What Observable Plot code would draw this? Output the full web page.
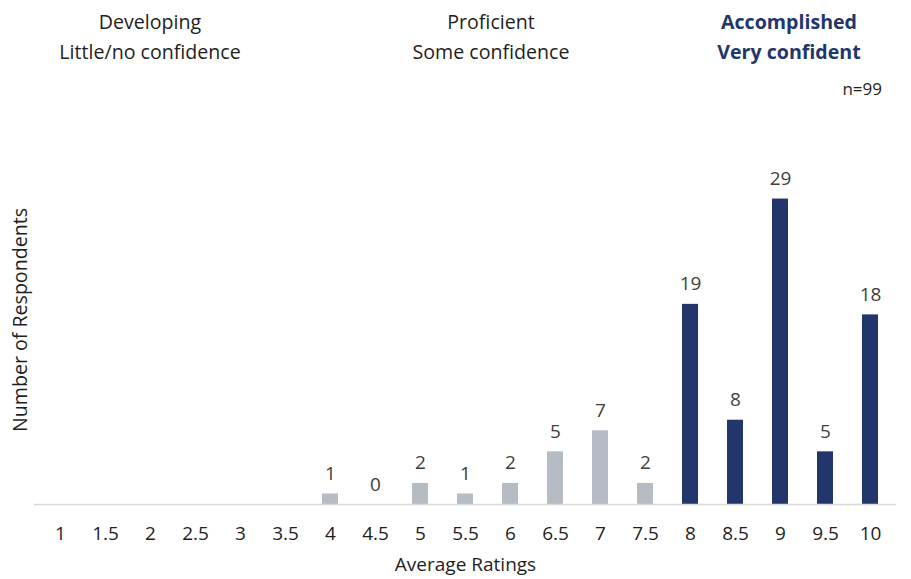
<!DOCTYPE html>
<html>
<head>
<meta charset="utf-8">
<script src="https://cdn.jsdelivr.net/npm/d3@7"></script>
<script src="https://cdn.jsdelivr.net/npm/@observablehq/plot@0.6"></script>
<style>
  body { margin: 0; background: #fff; font-family: "Open Sans", sans-serif; }
  #wrap { position: relative; width: 911px; height: 579px; }
  .hd { position: absolute; transform: translateX(-50%); text-align: center; font-size: 19.6px; line-height: 30px; color: #1e1e1e; white-space: nowrap; }
  .hd.strong { font-weight: 700; color: #22366b; }
  .note { position: absolute; right: 29px; top: 77px; font-size: 17px; color: #1e1e1e; }
  .ylab { position: absolute; left: 19px; top: 320px; transform: translate(-50%, -50%) rotate(-90deg); font-size: 19.6px; color: #1e1e1e; white-space: nowrap; }
</style>
</head>
<body>
<div id="wrap"></div>
<script>
// Rating buckets (x axis) and number of respondents in each
const ratings = ["1", "1.5", "2", "2.5", "3", "3.5", "4", "4.5", "5", "5.5", "6", "6.5", "7", "7.5", "8", "8.5", "9", "9.5", "10"];
const respondents = [null, null, null, null, null, null, 1, 0, 2, 1, 2, 5, 7, 2, 19, 8, 29, 5, 18];

// Confidence bands shown across the top
const bandTitles = ["Developing", "Proficient", "Accomplished"];
const bandSubtitles = ["Little/no confidence", "Some confidence", "Very confident"];
const bandCenters = [150, 491, 789];
const bandStrong = [false, false, true];
const sampleNote = "n=99";

const gray = "#b6bcc4";
const navy = "#22366b";
const accomplishedFrom = 8;

const data = ratings.map((r, i) => ({ rating: r, value: respondents[i] }));
const shown = data.filter(d => d.value != null);

const wrap = document.getElementById("wrap");

const chart = Plot.plot({
  width: 911,
  height: 579,
  marginLeft: 34,
  marginRight: 15,
  marginTop: 188,
  marginBottom: 75,
  style: { fontFamily: "'Open Sans', sans-serif", fontSize: "19px", color: "#1e1e1e", background: "transparent" },
  x: {
    domain: ratings,
    paddingInner: 0.646,
    paddingOuter: 0.354,
    tickSize: 0,
    tickPadding: 22,
    label: "Average Ratings",
    labelAnchor: "center",
    labelOffset: 66
  },
  y: { domain: [0, 30], axis: null },
  marks: [
    Plot.barY(shown, { x: "rating", y: "value", fill: d => +d.rating >= accomplishedFrom ? navy : gray }),
    Plot.ruleY([0], { stroke: "#d9d9d9", strokeWidth: 1.5 }),
    Plot.text(shown, { x: "rating", y: "value", text: d => String(d.value), dy: -14, lineAnchor: "bottom", fill: "#404040", fontSize: 19 })
  ]
});
wrap.appendChild(chart);

bandTitles.forEach((t, i) => {
  const div = document.createElement("div");
  div.className = "hd" + (bandStrong[i] ? " strong" : "");
  div.style.left = bandCenters[i] + "px";
  div.style.top = "7px";
  div.innerHTML = t + "<br>" + bandSubtitles[i];
  wrap.appendChild(div);
});

const note = document.createElement("div");
note.className = "note";
note.textContent = sampleNote;
wrap.appendChild(note);

const ylab = document.createElement("div");
ylab.className = "ylab";
ylab.textContent = "Number of Respondents";
wrap.appendChild(ylab);
</script>
</body>
</html>
